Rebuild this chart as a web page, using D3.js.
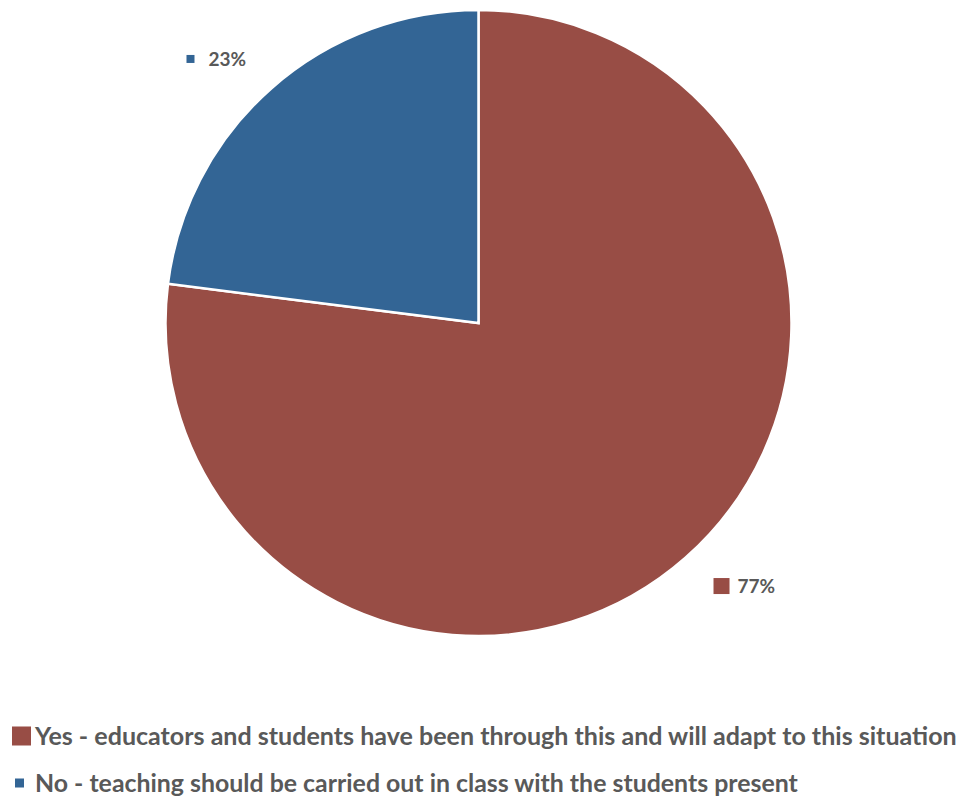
<!DOCTYPE html>
<html>
<head>
<meta charset="utf-8">
<script src="https://cdn.jsdelivr.net/npm/d3@7"></script>
<style>
  html, body { margin: 0; padding: 0; background: #fff; }
  svg { display: block; }
  text { font-family: Lato, "Open Sans", sans-serif; font-weight: 700; fill: #595959; }
</style>
</head>
<body>
<svg id="chart" width="963" height="796"></svg>
<script>
// Survey answers and their shares
const categories = [
  "Yes - educators and students have been through this and will adapt to this situation",
  "No - teaching should be carried out in class with the students present"
];
const values = [77, 23];
const valueLabels = ["77%", "23%"];
const colors = ["#984D45", "#336595"];

const svg = d3.select("#chart");
const cx = 478.5, cy = 323, R = 313;

const pie = d3.pie().sort(null).value(d => d.value);
const data = categories.map((c, i) => ({ name: c, value: values[i], label: valueLabels[i], color: colors[i] }));
const arcs = pie(data);

const arc = d3.arc().innerRadius(0).outerRadius(R);
const g = svg.append("g").attr("transform", `translate(${cx},${cy})`);

g.selectAll("path.slice")
  .data(arcs)
  .join("path")
  .attr("class", "slice")
  .attr("d", arc)
  .attr("fill", d => d.data.color)
  .attr("stroke", "#fff")
  .attr("stroke-width", 2.5)
  .attr("stroke-linejoin", "miter");

// Data labels sit just outside the rim, with a small colour key before the value
const labelArc = d3.arc().innerRadius(372).outerRadius(372);
const labelNudge = [[21, -16], [-15, 15]];
const markerSize = [16, 8];

const labels = g.selectAll("g.dlabel")
  .data(arcs)
  .join("g")
  .attr("class", "dlabel")
  .attr("transform", (d, i) => {
    const [x, y] = labelArc.centroid(d);
    return `translate(${x + labelNudge[i][0]},${y + labelNudge[i][1]})`;
  });

labels.append("text")
  .attr("font-size", 19)
  .attr("dy", "0.35em")
  .attr("x", (d, i) => i === 0 ? -8 : -9)
  .text(d => d.data.label);

labels.append("rect")
  .attr("width", (d, i) => markerSize[i])
  .attr("height", (d, i) => markerSize[i])
  .attr("x", (d, i) => (i === 0 ? -32 : -31))
  .attr("y", (d, i) => -markerSize[i] / 2)
  .attr("fill", d => d.data.color);

// Legend below the pie
const legendY = [736, 783];
const legendW = [922, 763];
const legendMarker = [19, 9];
const legend = svg.append("g").attr("class", "legend");

const items = legend.selectAll("g.item")
  .data(data)
  .join("g")
  .attr("class", "item")
  .attr("transform", (d, i) => `translate(0,${legendY[i]})`);

items.append("rect")
  .attr("x", (d, i) => i === 0 ? 12 : 15)
  .attr("y", (d, i) => -legendMarker[i] / 2)
  .attr("width", (d, i) => legendMarker[i])
  .attr("height", (d, i) => legendMarker[i])
  .attr("fill", d => d.color);

items.append("text")
  .attr("x", 35)
  .attr("dy", "0.36em")
  .attr("font-size", 22)
  .text(d => d.name)
  .each(function (d, i) {
    const w = this.getComputedTextLength();
    const fs = 22 * legendW[i] / w;
    d3.select(this).attr("font-size", fs.toFixed(2));
  });
</script>
</body>
</html>
